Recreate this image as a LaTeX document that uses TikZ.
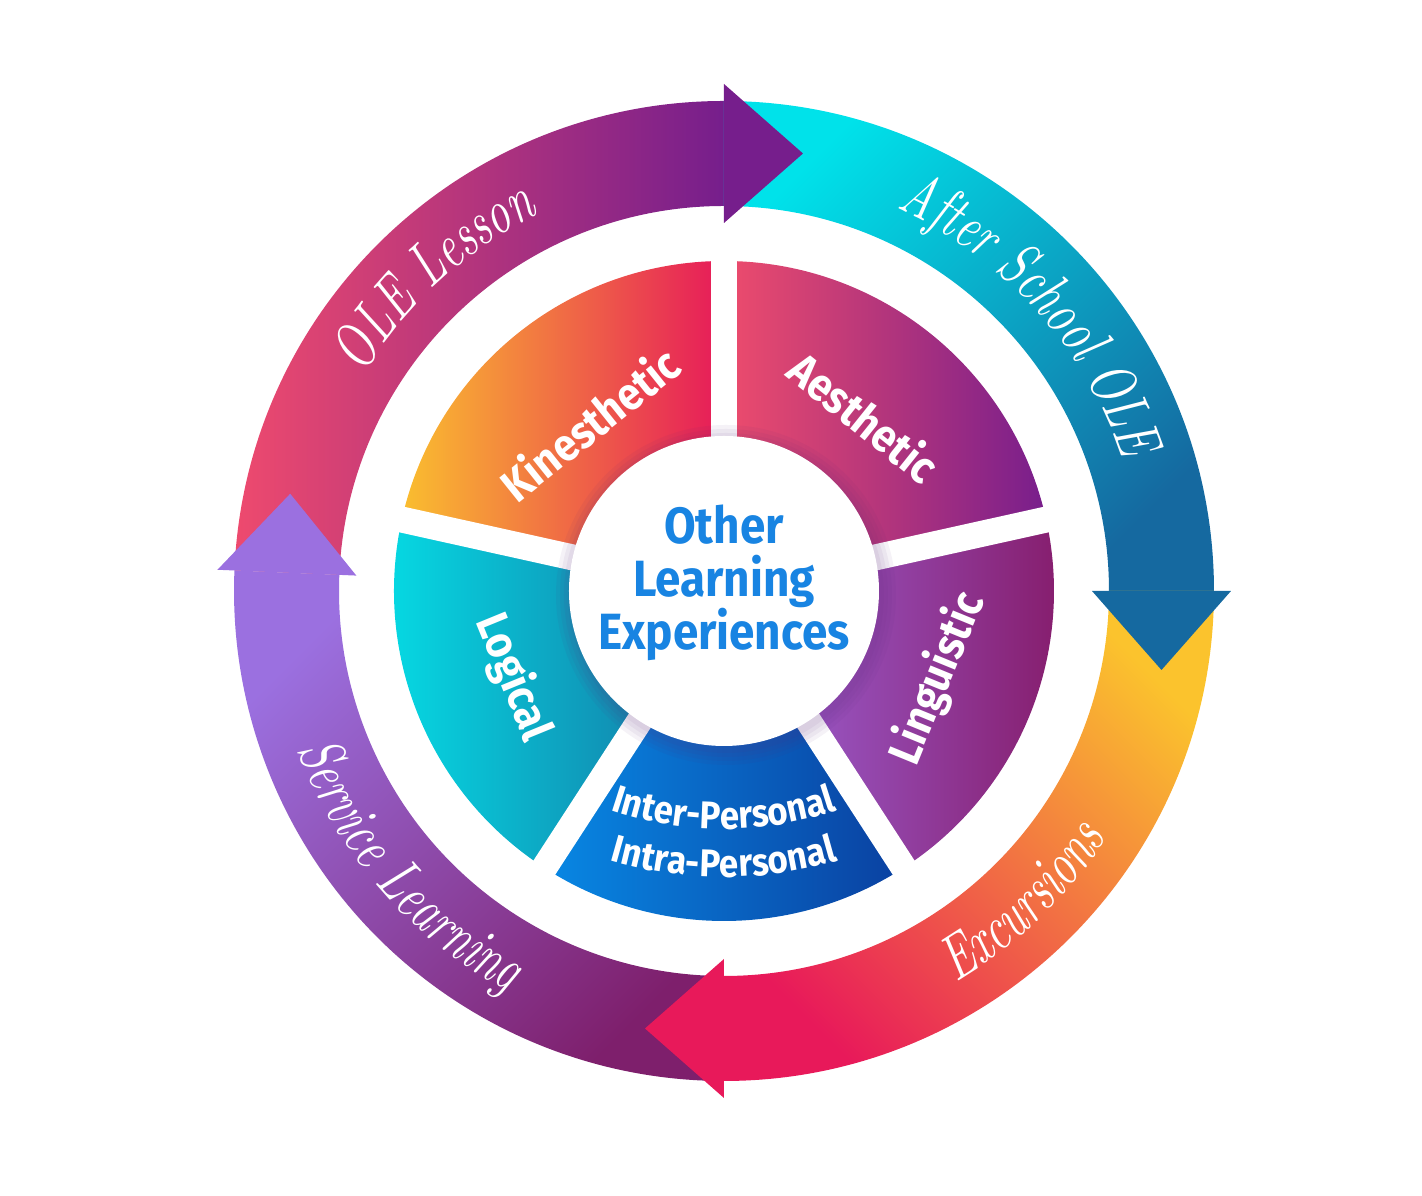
\documentclass[tikz,border=0pt]{standalone}
\usepackage{fontspec}
\usepackage{xcolor}
\usepackage{tikz}
\usetikzlibrary{calc, decorations.text}
\setsansfont{Fira Sans}[FakeStretch=0.9]
\newfontfamily\handfont{lmroman10-italic}[Extension=.otf, FakeStretch=0.7]
\definecolor{olepink}{HTML}{EE4A6E}
\definecolor{olepurple}{HTML}{761E8C}
\definecolor{aftercyan}{HTML}{00E2EA}
\definecolor{afterblue}{HTML}{1569A0}
\definecolor{excyellow}{HTML}{FBC32D}
\definecolor{excred}{HTML}{E8195A}
\definecolor{servdark}{HTML}{7E1F6C}
\definecolor{servlight}{HTML}{9B70E0}
\definecolor{kinyellow}{HTML}{FABE2F}
\definecolor{kinred}{HTML}{E61A5A}
\definecolor{aespink}{HTML}{EE4C6C}
\definecolor{aespurple}{HTML}{781E8C}
\definecolor{linlight}{HTML}{9E66DC}
\definecolor{lindark}{HTML}{851A68}
\definecolor{perblue}{HTML}{0888E4}
\definecolor{perdark}{HTML}{0A40A0}
\definecolor{logcyan}{HTML}{05DEE6}
\definecolor{logteal}{HTML}{1570A0}
\definecolor{corecolor}{HTML}{1884E2}
\definecolor{coreshadow}{HTML}{5A2878}

\begin{document}
\begin{tikzpicture}[
    gapline/.style={white, line width=0.26cm},
    core/.style={circle, fill=white, minimum size=3.1cm, inner sep=0pt},
    coretitle/.style={text=corecolor, font=\sffamily\bfseries\fontsize{14.5}{15}\selectfont, align=center},
    seclabel/.style={text=white, font=\sffamily\bfseries\fontsize{13}{13}\selectfont, align=center},
    perlabel/.style={decorate, decoration={text along path, text align=center, text color=white,
        text={|\sffamily\bfseries\fontsize{11}{11}\selectfont|#1}}},
    ringlabel/.style={decorate, decoration={text along path, text align=center, text color=white,
        text={|\handfont\fontsize{18}{18}\selectfont|#1}}}
]
    \useasboundingbox (-7.24,-6.05) rectangle (6.98,5.91);

    % inner sectors
    \shade[left color=kinyellow, right color=kinred] (0,0) -- (167.5:3.3) arc[start angle=167.5, end angle=90, radius=3.3] -- cycle;
    \shade[left color=aespink, right color=aespurple] (0,0) -- (90:3.3) arc[start angle=90, end angle=12.5, radius=3.3] -- cycle;
    \shade[left color=linlight, right color=lindark] (0,0) -- (12.5:3.3) arc[start angle=12.5, end angle=-57, radius=3.3] -- cycle;
    \shade[left color=perblue, right color=perdark] (0,0) -- (-57:3.3) arc[start angle=-57, end angle=-123, radius=3.3] -- cycle;
    \shade[left color=logcyan, right color=logteal] (0,0) -- (237:3.3) arc[start angle=237, end angle=167.5, radius=3.3] -- cycle;

    \draw[gapline] (0,0) -- (90:3.5);
    \draw[gapline] (0,0) -- (167.5:3.5);
    \draw[gapline] (0,0) -- (237:3.5);
    \draw[gapline] (0,0) -- (303:3.5);
    \draw[gapline] (0,0) -- (12.5:3.5);

    \node[seclabel, rotate=38.75] (kinesthetic) at (128.75:2.15) {Kinesthetic};
    \node[seclabel, rotate=-38.75] (aesthetic) at (51.25:2.24) {Aesthetic};
    \node[seclabel, rotate=67.75] (linguistic) at (-22.25:2.31) {Linguistic};
    \node[seclabel, rotate=-67.75] (logical) at (202.25:2.28) {Logical};
    \coordinate (bend) at (0,1.2);
    \path[perlabel=Inter-Personal] ($(bend)+(245:3.58)$) arc[start angle=245, end angle=295, radius=3.58];
    \path[perlabel=Intra-Personal] ($(bend)+(247:4.06)$) arc[start angle=247, end angle=293, radius=4.06];

    % centre
    \fill[coreshadow, opacity=0.06] (0.02,-0.04) circle (1.70);
    \fill[coreshadow, opacity=0.06] (0.02,-0.04) circle (1.66);
    \fill[coreshadow, opacity=0.06] (0.02,-0.04) circle (1.62);
    \fill[coreshadow, opacity=0.06] (0.02,-0.04) circle (1.58);
    \node[core] (core) at (0,0) {};
    \node[coretitle] (title) at (0,0.08) {Other\\Learning\\Experiences};

    % outer ring
    \shade[left color=olepink, right color=olepurple] (177.6:4.9) arc[start angle=177.6, end angle=90, radius=4.9] -- (90:3.85) arc[start angle=90, end angle=177.6, radius=3.85] -- cycle;
    \shade[top color=aftercyan, bottom color=afterblue, shading angle=45] (90:4.9) arc[start angle=90, end angle=0, radius=4.9] -- (0:3.85) arc[start angle=0, end angle=90, radius=3.85] -- cycle;
    \shade[top color=excyellow, bottom color=excred, shading angle=-45] (0:4.9) arc[start angle=0, end angle=-90, radius=4.9] -- (-90:3.85) arc[start angle=-90, end angle=0, radius=3.85] -- cycle;
    \shade[top color=servlight, bottom color=servdark, shading angle=45] (270:4.9) arc[start angle=270, end angle=177.6, radius=4.9] -- (177.6:3.85) arc[start angle=177.6, end angle=270, radius=3.85] -- cycle;

    \fill[olepurple] (90:3.68) -- ($(90:4.375)+(0:0.79)$) -- (90:5.07) -- cycle;
    \fill[afterblue] (0:3.68) -- ($(0:4.375)+(-90:0.79)$) -- (0:5.07) -- cycle;
    \fill[excred] (-90:3.68) -- ($(-90:4.375)+(-180:0.79)$) -- (-90:5.07) -- cycle;
    \fill[servlight] (177.6:3.68) -- ($(177.6:4.375)+(87.6:0.79)$) -- (177.6:5.07) -- cycle;

    \path[ringlabel=OLE Lesson] (172.6:4.2) arc[start angle=172.6, end angle=92.6, radius=4.2];
    \path[ringlabel=After School OLE] (82:4.2) arc[start angle=82, end angle=2, radius=4.2];
    \path[ringlabel=Excursions] (-86:4.55) arc[start angle=-86, end angle=-6, radius=4.55];
    \path[ringlabel=Service Learning] (181:4.55) arc[start angle=181, end angle=261, radius=4.55];
\end{tikzpicture}
\end{document}
